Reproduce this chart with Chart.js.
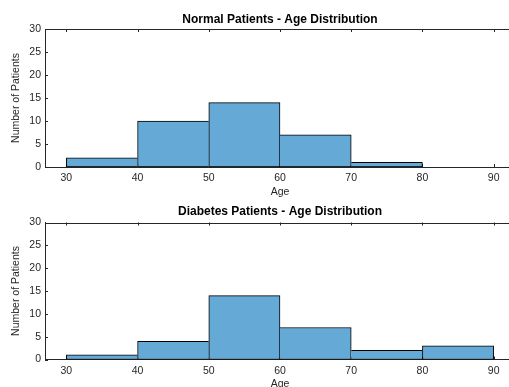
<!DOCTYPE html>
<html lang="en">
<head>
  <meta charset="UTF-8" />
  <title>Age Distribution</title>
  <script src="https://cdn.jsdelivr.net/npm/chart.js"></script>
  <style>
    html, body {
      margin: 0;
      padding: 0;
      background: #ffffff;
      overflow: hidden;
    }
    .page {
      position: relative;
      width: 509px;
      height: 387px;
      overflow: hidden;
    }
    .plot {
      position: absolute;
      left: 0;
      width: 530px;
    }
  </style>
</head>
<body>
  <div class="page">
    <div class="plot" style="top:0px"><canvas id="normalChart" width="530" height="200"></canvas></div>
    <div class="plot" style="top:194px"><canvas id="diabetesChart" width="530" height="193"></canvas></div>
  </div>

  <script>
    // histogram data
    const binEdges = [30, 40, 50, 60, 70, 80, 90];
    const normalCounts = [2, 10, 14, 7, 1, 0];
    const diabetesCounts = [1, 4, 14, 7, 2, 3];
    const xTicks = [30, 40, 50, 60, 70, 80, 90];
    const yTicks = [0, 5, 10, 15, 20, 25, 30];
    const titles = ['Normal Patients - Age Distribution', 'Diabetes Patients - Age Distribution'];

    const axisColor = '#262626';
    const barColor = '#65a9d7';
    const font = 'Liberation Sans, Arial, Helvetica, sans-serif';

    // MATLAB-like top edge with inward tick marks (right edge falls outside the window)
    const boxTicks = {
      id: 'boxTicks',
      beforeDatasetsDraw(chart) {
        const { ctx, chartArea: a, scales: { x, y } } = chart;
        const len = 3;
        ctx.save();
        ctx.strokeStyle = axisColor;
        ctx.lineWidth = 1;
        ctx.beginPath();
        ctx.moveTo(a.left, Math.round(a.top) + 0.5);
        ctx.lineTo(a.right, Math.round(a.top) + 0.5);
        xTicks.forEach(v => {
          const px = Math.round(x.getPixelForValue(v)) + 0.5;
          ctx.moveTo(px, a.top);
          ctx.lineTo(px, a.top + len);
          ctx.moveTo(px, a.bottom);
          ctx.lineTo(px, a.bottom - len);
        });
        yTicks.forEach(v => {
          const py = Math.round(y.getPixelForValue(v)) + 0.5;
          ctx.moveTo(a.left, py);
          ctx.lineTo(a.left + len, py);
        });
        ctx.stroke();
        ctx.restore();
      }
    };

    function edgeWidths(counts) {
      // draw each shared bin edge only once, from the taller bar
      return counts.map((c, i) => ({
        top: 1,
        bottom: 1,
        left: (i === 0 || counts[i - 1] <= c) ? 1 : 0,
        right: (i === counts.length - 1 || counts[i + 1] < c) ? 1 : 0
      }));
    }

    function makeHistogram(id, counts, title, titlePad, xAxisHeight, ageBottomPad) {
      const points = counts.map((c, i) => ({ x: (binEdges[i] + binEdges[i + 1]) / 2, y: c }));
      return new Chart(document.getElementById(id), {
        type: 'bar',
        data: {
          datasets: [{
            data: points,
            backgroundColor: barColor,
            borderColor: '#000000',
            borderWidth: edgeWidths(counts),
            borderSkipped: false,
            barPercentage: 1,
            categoryPercentage: 1
          }]
        },
        options: {
          responsive: false,
          animation: false,
          events: [],
          layout: { padding: { left: 0, right: 15, top: 0, bottom: 0 } },
          plugins: {
            legend: { display: false },
            tooltip: { enabled: false },
            title: {
              display: true,
              text: title,
              fullSize: false,
              color: '#000000',
              font: { family: font, size: 12, weight: 'bold' },
              padding: titlePad
            }
          },
          scales: {
            x: {
              type: 'linear',
              offset: false,
              min: 27,
              max: 93,
              afterBuildTicks: s => { s.ticks = xTicks.map(v => ({ value: v })); },
              afterFit: s => { s.height = xAxisHeight; },
              grid: { display: false, drawTicks: false, offset: false },
              border: { display: true, color: axisColor, width: 1 },
              ticks: {
                color: axisColor,
                padding: 5,
                maxRotation: 0,
                autoSkip: false,
                font: { family: font, size: 10.5 }
              },
              title: {
                display: true,
                text: 'Age',
                color: axisColor,
                font: { family: font, size: 10.5 },
                padding: { top: 0, bottom: ageBottomPad }
              }
            },
            y: {
              min: 0,
              max: 30,
              afterBuildTicks: s => { s.ticks = yTicks.map(v => ({ value: v })); },
              afterFit: s => { s.width = 45; },
              grid: { display: false, drawTicks: false },
              border: { display: true, color: axisColor, width: 1 },
              ticks: {
                color: axisColor,
                padding: 4,
                font: { family: font, size: 10.5 }
              },
              title: {
                display: true,
                text: 'Number of Patients',
                color: axisColor,
                font: { family: font, size: 10.5 },
                padding: { top: 10, bottom: 0 }
              }
            }
          }
        },
        plugins: [boxTicks]
      });
    }

    makeHistogram('normalChart', normalCounts, titles[0], { top: 12.3, bottom: 2.3 }, 33, 1.7);
    makeHistogram('diabetesChart', diabetesCounts, titles[1], { top: 10.3, bottom: 3.8 }, 27.5, -3.3);
  </script>
</body>
</html>
